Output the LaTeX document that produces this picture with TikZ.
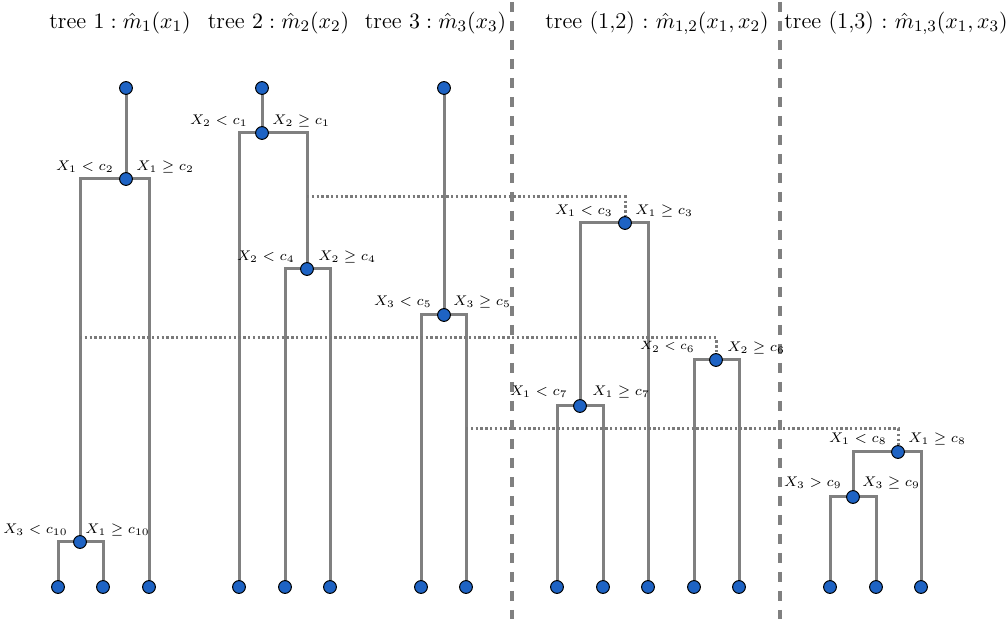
\documentclass[tikz,border=0pt]{standalone}
\usetikzlibrary{backgrounds}
\definecolor{edgegray}{HTML}{808080}
\definecolor{linkgray}{HTML}{7A7A7A}
\definecolor{nodeblue}{HTML}{1E63C4}
\begin{document}
\begin{tikzpicture}[x=0.5pt,y=-0.5pt,
 tn/.style={circle,fill=nodeblue,draw=black,line width=0.5pt,inner sep=0pt,minimum size=6.4pt},
 edge/.style={draw=edgegray,line width=1.5pt},
 link/.style={draw=linkgray,line width=1.5pt,dash pattern=on 1.2pt off 1.2pt},
 sepline/.style={draw=edgegray,line width=1.6pt,dash pattern=on 5pt off 4.5pt},
 lbl/.style={inner sep=0pt,font=\fontsize{7}{8.4}\selectfont},
 slbl/.style={inner sep=0pt,font=\fontsize{5.6}{6.7}\selectfont},
 ttl/.style={inner sep=0pt,font=\fontsize{11.3}{13}\selectfont}]
\useasboundingbox (0,0) rectangle (1008,619);
% titles
\node[ttl] (T1) at (120,23) {tree $1:\hat{m}_1(x_1)$};
\node[ttl] (T2) at (278.5,23) {tree $2:\hat{m}_2(x_2)$};
\node[ttl] (T3) at (435.5,23) {tree $3:\hat{m}_3(x_3)$};
\node[ttl] (T12) at (657,23) {tree (1,2) $:$ $\hat{m}_{1,2}(x_1,x_2)$};
\node[ttl] (T13) at (896,23) {tree (1,3) $:$ $\hat{m}_{1,3}(x_1,x_3)$};
% tree 1
\node[tn] (a0) at (126,88) {};
\node[tn] (a1) at (126,179) {};
\node[tn] (a2) at (80,542) {};
\node[tn] (a3) at (58,587) {};
\node[tn] (a4) at (103,587) {};
\node[tn] (a5) at (149,587) {};
% tree 2
\node[tn] (b0) at (262,88) {};
\node[tn] (b1) at (262,133) {};
\node[tn] (b2) at (239,587) {};
\node[tn] (b3) at (307,269) {};
\node[tn] (b4) at (285,587) {};
\node[tn] (b5) at (330,587) {};
% tree 3
\node[tn] (c0) at (444,88) {};
\node[tn] (c1) at (444,315) {};
\node[tn] (c2) at (421,587) {};
\node[tn] (c3) at (466,587) {};
% tree (1,2)
\node[tn] (d1) at (625,223) {};
\node[tn] (d2) at (580,406) {};
\node[tn] (d3) at (557,587) {};
\node[tn] (d4) at (603,587) {};
\node[tn] (d5) at (648,587) {};
\node[tn] (e1) at (716,360) {};
\node[tn] (e2) at (694,587) {};
\node[tn] (e3) at (739,587) {};
% tree (1,3)
\node[tn] (f1) at (898,452) {};
\node[tn] (f2) at (853,497) {};
\node[tn] (f3) at (830,587) {};
\node[tn] (f4) at (876,587) {};
\node[tn] (f5) at (921,587) {};
% link coordinates
\coordinate (l1) at (307,197);
\coordinate (l2) at (80,338);
\coordinate (l3) at (466,429);
\coordinate (s1t) at (512,2);
\coordinate (s1b) at (512,619);
\coordinate (s2t) at (780,2);
\coordinate (s2b) at (780,619);
\begin{scope}[on background layer]
\draw[sepline] (s1t) -- (s1b);
\draw[sepline] (s2t) -- (s2b);
\draw[edge] (a0.center) -- (a1.center);
\draw[edge] (a2.center) |- (a1.center) -| (a5.center);
\draw[edge] (a3.center) |- (a2.center) -| (a4.center);
\draw[edge] (b0.center) -- (b1.center);
\draw[edge] (b2.center) |- (b1.center) -| (b3.center);
\draw[edge] (b4.center) |- (b3.center) -| (b5.center);
\draw[edge] (c0.center) -- (c1.center);
\draw[edge] (c2.center) |- (c1.center) -| (c3.center);
\draw[edge] (d2.center) |- (d1.center) -| (d5.center);
\draw[edge] (d3.center) |- (d2.center) -| (d4.center);
\draw[edge] (e2.center) |- (e1.center) -| (e3.center);
\draw[edge] (f2.center) |- (f1.center) -| (f5.center);
\draw[edge] (f3.center) |- (f2.center) -| (f4.center);
\draw[link] (l1) -| (d1);
\draw[link] (l2) -| (e1);
\draw[link] (l3) -| (f1);
\end{scope}
% labels
\node[lbl,anchor=east] (la1) at (114,167) {$X_1<c_2$};
\node[lbl,anchor=west] (lb1) at (136,167) {$X_1\geq c_2$};
\node[lbl,anchor=east] (la2) at (68,530) {$X_3<c_{10}$};
\node[lbl,anchor=west] (lb2) at (85,530) {$X_1\geq c_{10}$};
\node[lbl,anchor=east] (la3) at (248,121) {$X_2<c_1$};
\node[lbl,anchor=west] (lb3) at (272,121) {$X_2\geq c_1$};
\node[lbl,anchor=east] (la4) at (295,257) {$X_2<c_4$};
\node[lbl,anchor=west] (lb4) at (318,257) {$X_2\geq c_4$};
\node[lbl,anchor=east] (la5) at (432,302) {$X_3<c_5$};
\node[lbl,anchor=west] (lb5) at (453,302) {$X_3\geq c_5$};
\node[lbl,anchor=east] (la6) at (613,211) {$X_1<c_3$};
\node[lbl,anchor=west] (lb6) at (635,211) {$X_1\geq c_3$};
\node[lbl,anchor=east] (la7) at (568,392) {$X_1<c_7$};
\node[lbl,anchor=west] (lb7) at (592,392) {$X_1\geq c_7$};
\node[slbl,anchor=east] (la8) at (695,347) {$X_2<c_6$};
\node[lbl,anchor=west] (lb8) at (727,348) {$X_2\geq c_6$};
\node[lbl,anchor=east] (la9) at (887,439) {$X_1<c_8$};
\node[lbl,anchor=west] (lb9) at (908,439) {$X_1\geq c_8$};
\node[lbl,anchor=east] (la10) at (842,483) {$X_3>c_9$};
\node[lbl,anchor=west] (lb10) at (862,483) {$X_3\geq c_9$};
\end{tikzpicture}
\end{document}
